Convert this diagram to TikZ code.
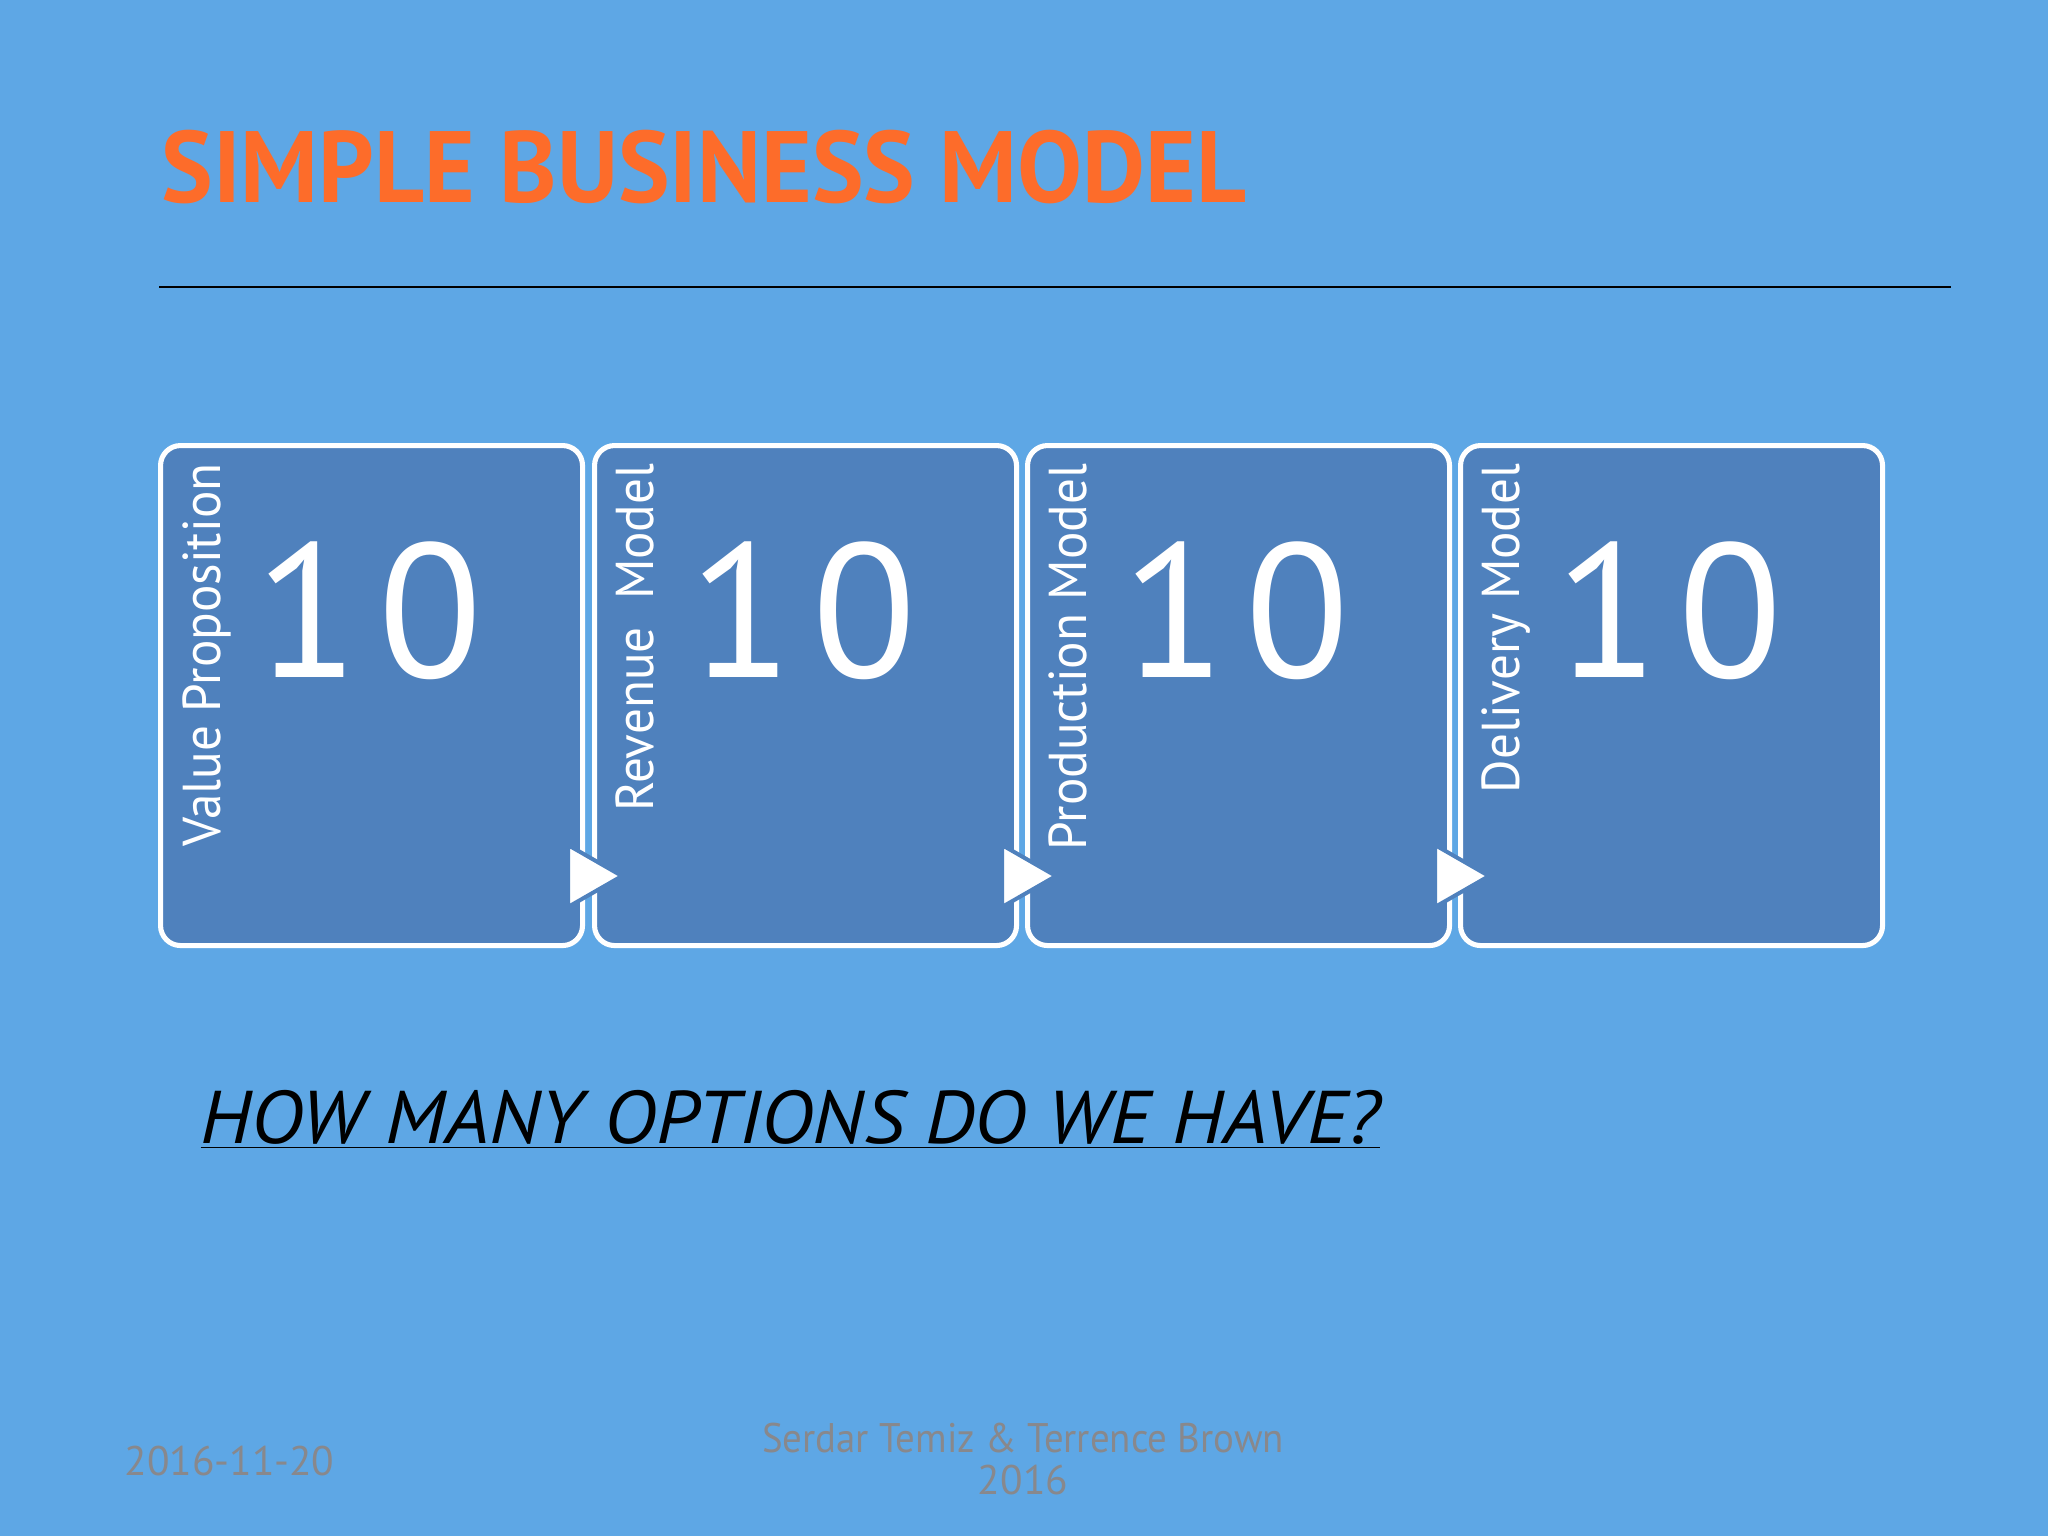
\documentclass[tikz,border=0pt]{standalone}
\usepackage{fontspec}
\usepackage{graphicx}
\setmainfont{PT Sans}
\setsansfont{PT Sans}
\definecolor{bg}{RGB}{94,167,229}
\definecolor{boxfill}{RGB}{79,129,189}
\definecolor{titleor}{RGB}{253,108,42}
\definecolor{footgray}{RGB}{136,136,140}
\tikzset{
  stagebox/.style={draw=white, line width=1.9pt, fill=boxfill, rounded corners=7.5pt,
    minimum width=158.25pt, minimum height=187.5pt, inner sep=0pt, anchor=north west},
  stagelabel/.style={text=white, rotate=90, anchor=base east, inner sep=0pt,
    font=\fontsize{20}{24}\selectfont},
  bignum/.style={text=white, anchor=base, inner sep=0pt, font=\fontsize{71.5}{76}\selectfont},
  flowtri/.style={fill=white, draw=boxfill, line width=1.5pt, line join=miter},
  foot/.style={text=footgray, inner sep=0pt, font=\fontsize{15.5}{17}\selectfont}
}
\begin{document}
\begin{tikzpicture}[x=0.375pt,y=-0.375pt]
\fill[bg] (0,0) rectangle (2048,1536);
\useasboundingbox (0,0) rectangle (2048,1536);
% title
\node[anchor=base west, inner sep=0pt, text=titleor, font=\bfseries\fontsize{38}{42}\selectfont] (title) at (161,202) {\scalebox{0.96}[1]{SIMPLE BUSINESS MODEL}};
\coordinate (ruleL) at (159,287);
\coordinate (ruleR) at (1951,287);
\draw[black, line width=0.8pt] (ruleL) -- (ruleR);
% boxes
\node[stagebox] (b1) at (158,443) {};
\node[stagebox] (b2) at (592,443) {};
\node[stagebox] (b3) at (1025,443) {};
\node[stagebox] (b4) at (1458,443) {};
% labels
\node[stagelabel] (l1) at (220,463) {\scalebox{0.96}[1]{Value Proposition}};
\node[stagelabel] (l2) at (653,463) {\scalebox{0.96}[1]{Revenue\ \ Model}};
\node[stagelabel] (l3) at (1086,463) {\scalebox{0.96}[1]{Production Model}};
\node[stagelabel] (l4) at (1519,463) {\scalebox{0.96}[1]{Delivery Model}};
% numbers
\node[bignum] (n1) at (369,677) {1\hspace{7pt}0};
\node[bignum] (n2) at (803,677) {1\hspace{7pt}0};
\node[bignum] (n3) at (1236,677) {1\hspace{7pt}0};
\node[bignum] (n4) at (1669,677) {1\hspace{7pt}0};
% triangles
\draw[flowtri] (568,845) -- (622,876) -- (568,907) -- cycle;
\draw[flowtri] (1002,845) -- (1056,876) -- (1002,907) -- cycle;
\draw[flowtri] (1435,845) -- (1489,876) -- (1435,907) -- cycle;
% question
\node[anchor=base west, inner sep=0pt, text=black, font=\itshape\fontsize{28}{32}\selectfont] (q) at (200,1143) {\underline{\scalebox{1.065}[1]{HOW MANY OPTIONS DO WE HAVE?}}};
% footer
\node[foot, anchor=base west] (date) at (124,1475) {2016-11-20};
\node[foot, anchor=base] (auth) at (1023,1452) {\scalebox{0.94}[1]{Serdar Temiz \& Terrence Brown}};
\node[foot, anchor=base] (year) at (1023,1494) {2016};
\end{tikzpicture}
\end{document}
